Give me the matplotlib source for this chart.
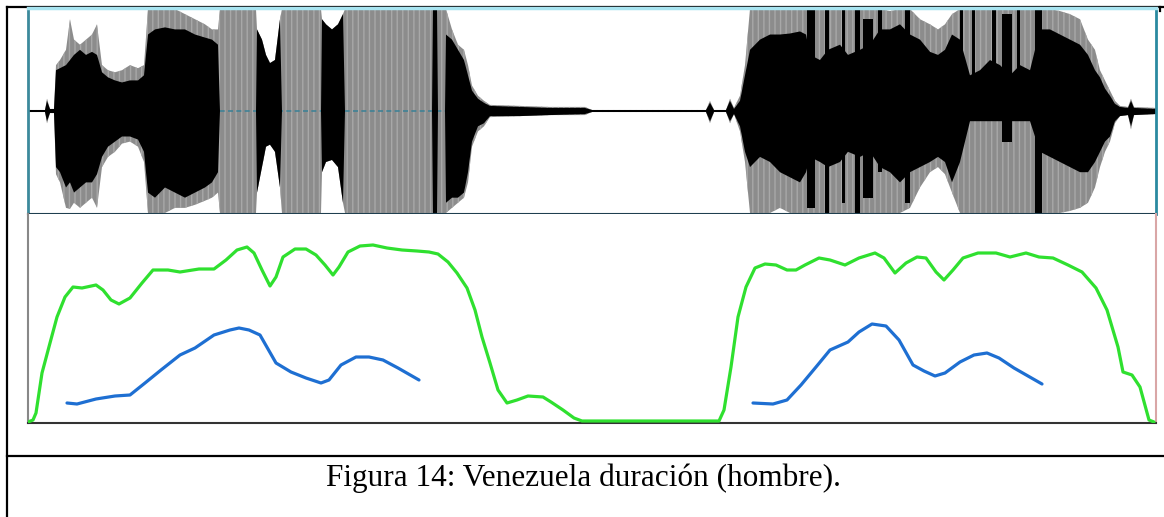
import matplotlib
matplotlib.use("Agg")
import matplotlib.pyplot as plt

W, H = 1164, 517

# ---- waveform (frame index, amplitude -1..1) ----
wave_t = [0, 17, 19, 22, 26, 28, 32, 38, 42, 46,
          52, 58, 64, 69, 74, 80, 87, 94, 102, 110,
          116, 120, 127, 137, 147, 157, 167, 177, 184, 190,
          192, 228, 229, 234, 238, 242, 247, 252, 254, 293,
          294, 298, 304, 310, 315, 317, 404, 405, 409, 410,
          417, 418, 424, 430, 436, 440, 444, 450, 456, 462,
          492, 522, 557, 564, 678, 682, 686, 698, 702, 706,
          712, 717, 722, 732, 742, 752, 762, 772, 778, 782,
          792, 800, 812, 820, 832, 842, 852, 862, 872, 882,
          892, 902, 910, 917, 924, 932, 942, 952, 962, 972,
          982, 992, 1002, 1012, 1022, 1032, 1042, 1052, 1060, 1067,
          1072, 1077, 1082, 1087, 1092, 1100, 1103, 1106, 1128]

# clipped (grey) peaks
gray_top = [.01, .01, .12, .02, .02, .45, .5, .6, .9, .7,
            .65, .7, .75, .85, .45, .4, .38, .4, .45, .42,
            .45, 1, 1, 1, 1, .95, .9, .85, .8, .8,
            1, 1, .8, .7, .55, .47, .5, .9, 1, 1,
            .9, .85, .8, .85, .95, 1, 1, 1, 1, 1,
            1, 1, .8, .65, .6, .45, .25, .15, .1, .06,
            .05, .04, .04, .01, .01, .1, .01, .01, .12, .03,
            .15, .45, 1, 1, 1, 1, 1, 1, 1, 1,
            1, 1, 1, 1, 1, 1, 1, .98, 1, 1,
            .9, .85, .8, .85, .95, 1, 1, 1, 1, 1,
            1, 1, 1, 1, 1, .98, .95, .9, .7, .6,
            .4, .3, .2, .1, .05, .04, .12, .04, .03]
gray_bot = [-.01, -.01, -.12, -.02, -.02, -.62, -.7, -.95, -.96, -.9,
            -.95, -.9, -.85, -.95, -.55, -.45, -.4, -.32, -.3, -.35,
            -.5, -1, -1, -1, -.95, -.95, -.92, -.88, -.85, -.8,
            -1, -1, -.8, -.55, -.35, -.33, -.4, -.75, -1, -1,
            -.6, -.5, -.48, -.55, -.9, -1, -1, -1, -1, -1,
            -1, -1, -.95, -.9, -.85, -.7, -.35, -.2, -.15, -.06,
            -.05, -.04, -.04, -.01, -.01, -.12, -.01, -.01, -.12, -.03,
            -.2, -.5, -1, -1, -1, -.95, -1, -1, -1, -1,
            -1, -1, -1, -1, -1, -1, -1, -1, -1, -.95,
            -.75, -.6, -.55, -.62, -.8, -1, -1, -1, -1, -1,
            -1, -1, -1, -1, -1, -1, -.98, -.95, -.9, -.75,
            -.55, -.4, -.3, -.12, -.05, -.04, -.18, -.04, -.03]
# dense (black) part
black_top = [.01, .01, .1, .02, .02, .4, .42, .45, .5, .55,
             .6, .55, .58, .55, .38, .33, .3, .28, .3, .3,
             .35, .75, .8, .82, .8, .8, .75, .72, .7, .65,
             0, 0, .8, .7, .55, .47, .5, .9, 0, 0,
             .9, .85, .8, .85, .95, 0, 0, 1, 1, 0,
             0, .75, .7, .6, .5, .35, .2, .12, .08, .05,
             .04, .03, .03, .01, .01, .08, .01, .01, .1, .02,
             .1, .35, .6, .7, .75, .75, .76, .78, .75, .55,
             .5, .6, .65, .55, .6, .65, .8, .8, .85, .75,
             .7, .58, .55, .6, .75, .7, .35, .4, .5, .45,
             .35, .45, .4, .8, .8, .75, .7, .65, .55, .4,
             .33, .22, .15, .07, .04, .03, .1, .03, .02]
black_bot = [-.01, -.01, -.1, -.02, -.02, -.55, -.6, -.75, -.7, -.8,
             -.75, -.7, -.7, -.62, -.45, -.35, -.3, -.25, -.25, -.28,
             -.4, -.8, -.85, -.75, -.8, -.85, -.8, -.75, -.7, -.6,
             0, 0, -.8, -.55, -.35, -.33, -.4, -.75, 0, 0,
             -.6, -.5, -.48, -.55, -.9, 0, 0, -1, -1, 0,
             0, -.9, -.85, -.85, -.8, -.6, -.3, -.15, -.12, -.05,
             -.05, -.04, -.03, -.01, -.01, -.1, -.01, -.01, -.1, -.03,
             -.15, -.4, -.55, -.45, -.5, -.6, -.65, -.7, -.6, -.45,
             -.5, -.55, -.5, -.4, -.45, -.4, -.55, -.6, -.7, -.6,
             -.55, -.5, -.45, -.5, -.7, -.5, -.1, -.1, -.1, -.1,
             -.1, -.1, -.1, -.4, -.45, -.5, -.55, -.6, -.6, -.5,
             -.4, -.3, -.25, -.1, -.05, -.04, -.15, -.04, -.03]

# single dark strokes inside the clipped stretches
stroke_t = [783, 799, 815.5, 829.5, 840, 852, 879.5, 933.5, 945.5, 966, 979, 990.5, 1010.5]
stroke_w = [8, 4, 3, 5, 10, 4, 5, 3, 3, 4, 10, 3, 7]
stroke_top = [1, 1, 1, 1, .9, 1, 1, 1, 1, 1, .95, 1, 1]
stroke_bot = [-.95, -1, -.9, -1, -.85, -.6, -.9, -.2, -.1, -.1, -.3, -.1, -1]

# ---- intensity (green) ----
int_t = [0, 5, 8, 14, 22, 29, 37, 45, 54, 68,
         75, 83, 91, 102, 114, 125, 140, 152, 171, 186,
         198, 209, 219, 226, 234, 242, 248, 255, 267, 278,
         288, 297, 305, 311, 320, 332, 345, 359, 374, 389,
         401, 410, 420, 429, 439, 447, 454, 462, 470, 479,
         489, 500, 515, 523, 535, 546, 554, 691, 696, 703,
         710, 718, 727, 737, 748, 759, 768, 777, 791, 802,
         817, 831, 847, 856, 867, 878, 889, 898, 908, 916,
         925, 935, 950, 968, 982, 998, 1011, 1025, 1040, 1054,
         1068, 1079, 1090, 1095, 1104, 1112, 1121, 1126]
int_db = [1, 3, 10, 50, 80, 106, 126, 136, 135, 138,
          133, 123, 119, 125, 140, 153, 153, 151, 154, 154,
          163, 173, 176, 170, 153, 137, 146, 166, 174, 174,
          168, 158, 148, 156, 171, 177, 178, 175, 173, 172,
          171, 169, 161, 150, 135, 113, 86, 60, 33, 20,
          23, 27, 26, 21, 13, 5, 2, 2, 13, 56,
          106, 136, 155, 159, 158, 153, 153, 158, 165, 163,
          158, 165, 170, 165, 150, 160, 166, 165, 151, 143,
          153, 165, 170, 170, 166, 170, 166, 165, 158, 151,
          135, 113, 76, 51, 48, 36, 3, 1]

# ---- pitch (blue), two voiced stretches ----
f0_t1 = [39, 49, 68, 87, 102, 117, 133, 152, 167, 186,
         202, 211, 221, 232, 248, 263, 278, 293, 301, 313,
         328, 341, 355, 370, 391]
f0_v1 = [20, 19, 24, 27, 28, 40, 53, 68, 75, 88,
         93, 95, 93, 88, 60, 51, 45, 40, 43, 58,
         66, 66, 63, 55, 43]
f0_t2 = [725, 745, 759, 773, 788, 802, 820, 831, 844, 858,
         871, 885, 896, 907, 917, 932, 946, 959, 971, 986,
         1000, 1014]
f0_v2 = [20, 19, 23, 38, 56, 73, 81, 91, 99, 97,
         83, 58, 52, 47, 50, 61, 68, 70, 65, 55,
         47, 39]

fig = plt.figure(figsize=(W / 100, H / 100), dpi=100)


def px_axes(x0, y0, x1, y1):
    return fig.add_axes([x0 / W, 1 - y1 / H, (x1 - x0) / W, (y1 - y0) / H])


# page / table frame
frame = px_axes(0, 0, W, H)
frame.set_xlim(0, W)
frame.set_ylim(H, 0)
frame.axis("off")
frame.plot([7, 7], [7, H], color="black", lw=1.6)
frame.plot([7, W], [7, 7], color="black", lw=1.6)
frame.plot([1160, 1160], [7, 11], color="black", lw=1.6)
frame.plot([7, W], [456, 456], color="black", lw=1.6)
frame.text(583, 486, "Figura 14: Venezuela duración (hombre).",
           family="Liberation Serif", fontsize=22.5, ha="center", va="baseline")

# waveform panel
ax1 = px_axes(28, 8, 1156, 214)
ax1.fill_between(wave_t, gray_bot, gray_top, facecolor="#8c8c8c", edgecolor="#a8a8a8",
                 hatch="|||", linewidth=0, zorder=1)
ax1.axhline(0, color="#3f8296", lw=1.2, ls=(0, (3, 2)), zorder=1.5)
ax1.fill_between(wave_t, black_bot, black_top, facecolor="black", linewidth=0, zorder=2)
ax1.bar(stroke_t, [t - b for t, b in zip(stroke_top, stroke_bot)], bottom=stroke_bot,
        width=stroke_w, color="black", linewidth=0, zorder=2)
ax1.set_xlim(0, 1128)
ax1.set_ylim(-1.01, 1.01)
ax1.set_xticks([])
ax1.set_yticks([])
ax1.spines["left"].set_color("#3c8a9c")
ax1.spines["left"].set_linewidth(2)
ax1.spines["top"].set_color("#a8e4f0")
ax1.spines["top"].set_linewidth(2.5)
ax1.spines["bottom"].set_color("#1f3f4f")
ax1.spines["bottom"].set_linewidth(1.5)
ax1.spines["right"].set_color("#2a8aa0")
ax1.spines["right"].set_linewidth(2)
ax1.spines["right"].set_linestyle((0, (2, 1)))

# intensity / pitch panel
ax2 = px_axes(28, 214, 1156, 423)
ax2.plot(int_t, int_db, color="#2fe02f", lw=2.3, solid_capstyle="round", zorder=3)
ax2.plot(f0_t1, f0_v1, color="#1e6fd2", lw=2.3, solid_capstyle="round", zorder=3)
ax2.plot(f0_t2, f0_v2, color="#1e6fd2", lw=2.3, solid_capstyle="round", zorder=3)
ax2.set_xlim(0, 1128)
ax2.set_ylim(0, 209)
ax2.set_xticks([])
ax2.set_yticks([])
ax2.spines["top"].set_visible(False)
ax2.spines["left"].set_color("#888888")
ax2.spines["left"].set_linewidth(1.5)
ax2.spines["bottom"].set_color("#333333")
ax2.spines["bottom"].set_linewidth(1.5)
ax2.spines["right"].set_color("#d9a6a6")
ax2.spines["right"].set_linewidth(1.5)
ax2.spines["right"].set_linestyle((0, (1, 1)))

fig.savefig("out.png", dpi=100)
